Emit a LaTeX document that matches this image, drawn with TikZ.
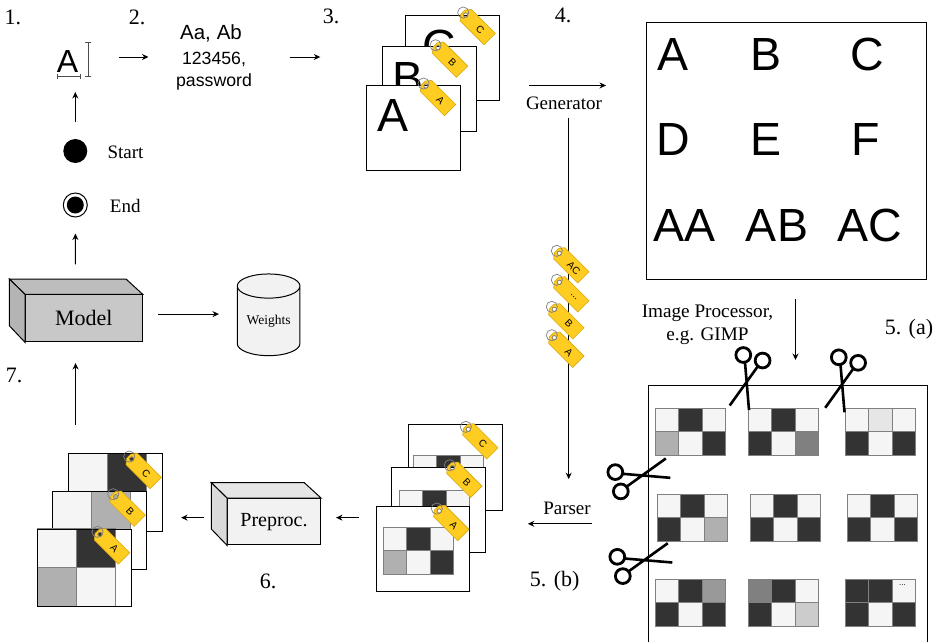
\documentclass[tikz,border=0pt]{standalone}
\usepackage{fontspec}
\usepackage{xcolor}
\usetikzlibrary{arrows.meta,shapes.geometric}
\setmainfont{Liberation Serif}
\newfontfamily\arialfont{Liberation Sans}
\definecolor{TagGold}{HTML}{FFCC22}
\definecolor{TagEdge}{HTML}{D6A90F}
\definecolor{ChipDark}{HTML}{333333}
\definecolor{ChipLight}{HTML}{F5F5F5}
\definecolor{ChipGrey}{HTML}{B0B0B0}
\definecolor{ChipMid}{HTML}{808080}
\definecolor{ChipSteel}{HTML}{999999}
\definecolor{ChipSoft}{HTML}{CCCCCC}
\definecolor{ChipFaint}{HTML}{E6E6E6}
\definecolor{ModelFront}{HTML}{C8C8C8}
\definecolor{ModelTop}{HTML}{BDBDBD}
\definecolor{ModelSide}{HTML}{B4B4B4}
\definecolor{PrepFront}{HTML}{F2F2F2}
\definecolor{PrepTop}{HTML}{E6E6E6}
\definecolor{PrepSide}{HTML}{DADADA}
\begin{document}
\begin{tikzpicture}[x=1pt,y=-1pt,line width=1pt,
  arrow/.style={-{Stealth[length=6.5pt,width=6pt]},line width=1pt},
  sheet/.style={draw,fill=white,anchor=north west,inner sep=0pt,minimum width=93.5pt,minimum height=85.5pt},
  lowsheet/.style={sheet,minimum height=77.6pt},
  serifbig/.style={inner sep=0pt,font=\fontsize{22}{26}\selectfont},
  serifmid/.style={inner sep=0pt,font=\fontsize{19}{22}\selectfont},
  letter/.style={inner sep=0pt,font=\arialfont\fontsize{46.5}{50}\selectfont},
  dot/.style={circle,fill=black,inner sep=0pt,minimum size=#1},
  front/.style={draw,anchor=north west,inner sep=0pt,font=\fontsize{#1}{24}\selectfont},
  pics/nametag/.style={code={
    \draw[draw=TagEdge,fill=TagGold,line width=.6pt,even odd rule] (-4,-3)--(0,-8)--(34,-8)--(34,8)--(0,8)--(-4,3)--cycle (0,0) circle (2.2);
    \draw[draw=ChipMid,line width=.7pt] (-3.5,0) circle (5.6);
    \draw[draw=ChipMid,line width=.6pt] (0,0) circle (2.2);
    \node[transform shape,inner sep=0pt,font=\arialfont\fontsize{10}{11}\selectfont] at (20.5,0) {#1};
  }},
  pics/chip/.style n args={3}{code={
    \foreach \tone [count=\k from 0] in {#3} {
      \pgfmathtruncatemacro{\col}{mod(\k,#1)}
      \pgfmathtruncatemacro{\row}{int(\k/#1)}
      \draw[draw=ChipMid,fill=\tone] (\col*#2,\row*#2) rectangle ++(#2,#2);
    }
  }},
  pics/shears/.style={code={
    \draw[line width=2.8pt] (-3.9,-22) circle (7.4) (15.4,-16.5) circle (7.4);
    \draw[line width=2.6pt] (-2.2,-14.7) -- (1.8,33) (10.5,-10.5) -- (-17.5,28.5);
  }}]
  \useasboundingbox (0,0) rectangle (942,641);

  \node[serifbig] (num1) at (13,17) {1.};
  \node[serifbig] (num2) at (137,17) {2.};
  \node[serifbig] (num3) at (331,16) {3.};
  \node[serifbig] (num4) at (563,15) {4.};
  \node[serifbig] (num5a) at (909,329) {5. (a)};
  \node[serifbig] (num5b) at (554.7,581) {5. (b)};
  \node[serifbig] (num6) at (268,581) {6.};
  \node[serifbig] (num7) at (14,375) {7.};

  \node[inner sep=0pt,font=\arialfont\fontsize{32}{34}\selectfont] (glyph) at (67.5,61) {A};
  \draw[draw=ChipMid!60!black,{Bar[width=5pt]}-{Bar[width=5pt]}] (57,76.7) -- (81,76.7);
  \draw[draw=ChipMid!60!black,{Bar[width=6pt]}-{Bar[width=6pt]}] (88,42) -- (88,77);
  \node[align=center,inner sep=0pt,text width=76pt,font=\arialfont\fontsize{17.7}{21.5}\selectfont] (creds) at (214,57) {\hspace*{-6pt}{\fontsize{20.5}{24}\selectfont Aa, Ab}\\[4pt]123456,\\password};
  \node[dot=24pt] (start) at (75.3,151) {};
  \node[serifmid] (startlabel) at (125.5,152) {Start};
  \node[dot=24pt,fill=white,draw=black] (end) at (75.3,205) {};
  \node[dot=17pt] (endcore) at (end) {};
  \node[serifmid] (endlabel) at (125.3,205.5) {End};

  \node[sheet] (s3c) at (405,14.7) {};
  \node[letter] (s3cletter) at (439,46) {C};
  \pic[rotate=-45] at (465.7,15) {nametag=C};
  \node[sheet] (s3b) at (382,45.7) {};
  \node[letter] (s3bletter) at (408,78) {B};
  \pic[rotate=-45] at (438,47.7) {nametag=B};
  \node[sheet] (s3a) at (366.3,84.7) {};
  \node[letter] (s3aletter) at (393,115) {A};
  \pic[rotate=-45] at (426,86) {nametag=A};

  \node[serifmid] (generator) at (564,103) {Generator};
  \node[draw,anchor=north west,inner sep=0pt,minimum width=280pt,minimum height=257pt] (panel) at (646,22) {};
  \foreach \txt/\cx/\cy/\nm in {A/673/54/pa,B/765.5/54/pb,C/867/54/pc,D/673/139/pd,E/765.5/139/pe,F/866/139/pf,AA/684.5/225/paa,AB/777/225/pab,AC/870/225/pac}
    \node[letter] (\nm) at (\cx,\cy) {\txt};

  \node[align=center,inner sep=0pt,font=\fontsize{19.2}{23}\selectfont] (processor) at (707.5,325) {Image Processor,\\e.g. GIMP};
  \node[draw,anchor=north west,inner sep=0pt,minimum width=279.3pt,minimum height=262pt] (gridpanel) at (647.7,385) {};
  \pic at (655.3,408.3) {chip={3}{23.5}{ChipLight,ChipDark,ChipLight,ChipGrey,ChipLight,ChipDark}};
  \pic at (748.3,408.3) {chip={3}{23.5}{ChipLight,ChipDark,ChipLight,ChipDark,ChipLight,ChipMid}};
  \pic at (845.3,408.3) {chip={3}{23.5}{ChipLight,ChipFaint,ChipLight,ChipDark,ChipLight,ChipDark}};
  \pic at (657.3,494) {chip={3}{23.5}{ChipLight,ChipDark,ChipLight,ChipDark,ChipLight,ChipGrey}};
  \pic at (750.3,494) {chip={3}{23.5}{ChipLight,ChipDark,ChipLight,ChipDark,ChipLight,ChipDark}};
  \pic at (847.3,494) {chip={3}{23.5}{ChipLight,ChipDark,ChipLight,ChipDark,ChipLight,ChipDark}};
  \pic at (655.3,579.3) {chip={3}{23.5}{ChipLight,ChipDark,ChipSteel,ChipDark,ChipLight,ChipDark}};
  \pic at (748.3,579.3) {chip={3}{23.5}{ChipMid,ChipDark,ChipLight,ChipDark,ChipLight,ChipSoft}};
  \pic at (845.3,579.3) {chip={3}{23.5}{ChipDark,ChipDark,ChipLight,ChipDark,ChipLight,ChipDark}};
  \node[inner sep=0pt,font=\arialfont\fontsize{8}{9}\selectfont] (more) at (902.5,585) {...};
  \pic at (747.2,377) {shears};
  \pic at (842.7,379.3) {shears};
  \pic[rotate=90,xscale=-1] at (637.3,476) {shears};
  \pic[rotate=90,xscale=-1] at (639.3,560.7) {shears};

  \node[serifmid] (parser) at (567,508) {Parser};
  \draw[arrow,shorten <=8pt,shorten >=22pt] ([xshift=4.7pt]generator.south) -- ([xshift=4.7pt]generator.south |- parser.north);
  \pic[rotate=-45] at (559.3,253.3) {nametag=AC};
  \pic[rotate=-45] at (559.3,282.3) {nametag=...};
  \pic[rotate=-45] at (554.3,309.3) {nametag=B};
  \pic[rotate=-45] at (554.3,337.7) {nametag=A};

  \node[sheet] (s5c) at (408.3,424) {};
  \pic at (413,455) {chip={3}{23.5}{ChipLight,ChipDark,ChipLight,ChipDark,ChipLight,ChipDark}};
  \pic[rotate=-45] at (468.3,429.3) {nametag=C};
  \node[sheet] (s5b) at (391.3,466.7) {};
  \pic at (399,490.3) {chip={3}{23.5}{ChipLight,ChipDark,ChipLight,ChipDark,ChipLight,ChipDark}};
  \pic[rotate=-45] at (452.3,467.7) {nametag=B};
  \node[sheet] (s5a) at (375.7,505.7) {};
  \pic at (383.3,527.3) {chip={3}{23.5}{ChipLight,ChipDark,ChipLight,ChipGrey,ChipLight,ChipDark}};
  \pic[rotate=-45] at (439.3,511) {nametag=A};

  \node[front=20,fill=PrepFront,minimum width=93pt,minimum height=46.3pt] (preproc) at (227,498) {Preproc.};
  \draw[fill=PrepTop] (preproc.north west) -- ++(-15.7,-15.3) -- ++(93,0) -- (preproc.north east) -- cycle;
  \draw[fill=PrepSide] (preproc.north west) -- ++(-15.7,-15.3) -- ++(0,46.3) -- (preproc.south west) -- cycle;

  \node[lowsheet] (s6c) at (68.3,453) {};
  \pic at (68.3,453) {chip={2}{39}{ChipLight,ChipDark,ChipGrey,ChipLight}};
  \node[draw,anchor=north west,inner sep=0pt,minimum width=93.5pt,minimum height=77.6pt] (s6cframe) at (68.3,453) {};
  \pic[rotate=-45] at (131.7,459) {nametag=C};
  \node[lowsheet] (s6b) at (52.3,491.3) {};
  \pic at (52.3,491.3) {chip={2}{39}{ChipLight,ChipGrey,ChipGrey,ChipLight}};
  \node[draw,anchor=north west,inner sep=0pt,minimum width=93.5pt,minimum height=77.6pt] (s6bframe) at (52.3,491.3) {};
  \pic[rotate=-45] at (115.7,496.7) {nametag=B};
  \node[lowsheet] (s6a) at (37,528.7) {};
  \pic at (37,528.7) {chip={2}{39}{ChipLight,ChipDark,ChipGrey,ChipLight}};
  \node[draw,anchor=north west,inner sep=0pt,minimum width=93.5pt,minimum height=77.6pt] (s6aframe) at (37,528.7) {};
  \pic[rotate=-45] at (100,534.3) {nametag=A};

  \node[front=22,fill=ModelFront,minimum width=116.7pt,minimum height=47pt] (model) at (25,294.3) {Model};
  \draw[fill=ModelTop] (model.north west) -- ++(-15.7,-15.3) -- ++(116.7,0) -- (model.north east) -- cycle;
  \draw[fill=ModelSide] (model.north west) -- ++(-15.7,-15.3) -- ++(0,46.7) -- (model.south west) -- cycle;

  \node[cylinder,draw,fill=PrepFront,shape border rotate=90,aspect=0.55,inner sep=0pt,minimum width=62.7pt,minimum height=81.7pt,font=\fontsize{13.5}{15}\selectfont] (weights) at (268.6,321.1) {\raisebox{-3pt}{Weights}};

  \draw[arrow,shorten <=17pt,shorten >=31pt] (start) -- (start |- glyph);
  \draw[arrow,shorten <=40.7pt,shorten >=27pt] (glyph.east |- creds.west) -- (creds.west);
  \draw[arrow,shorten <=37pt,shorten >=46pt] (creds.east) -- (creds.east -| s3a.west);
  \coordinate (genrow) at ([yshift=-27.5pt]s3c.east);
  \draw[arrow,shorten <=29.5pt,shorten >=40pt] (genrow) -- (genrow -| panel.west);
  \draw[arrow,shorten <=19pt,shorten >=25pt] ([xshift=9pt]panel.south) -- ([xshift=9pt]panel.south |- gridpanel.north);
  \coordinate (parserrow) at ([yshift=-7.3pt]gridpanel.west);
  \draw[arrow,shorten <=55.7pt,shorten >=25pt] (parserrow) -- (parserrow -| s5c.east);
  \coordinate (prerow) at ([yshift=4pt]preproc.east);
  \draw[arrow,shorten <=16.7pt,shorten >=15pt] (prerow -| s5a.west) -- (prerow);
  \draw[arrow,shorten <=23pt,shorten >=18.3pt] (prerow -| preproc.west) -- (prerow -| s6c.east);
  \coordinate (modelcol) at ([xshift=-8.3pt]model.south);
  \draw[arrow,shorten <=28pt,shorten >=20.7pt] (modelcol |- s6c.north) -- (modelcol);
  \draw[arrow,shorten <=30pt,shorten >=16pt] (modelcol |- model.north) -- (end);
  \coordinate (weightrow) at ([yshift=7pt]weights.center);
  \draw[arrow,shorten <=15.3pt,shorten >=49.6pt] (model.east |- weightrow) -- (weightrow);
\end{tikzpicture}
\end{document}
